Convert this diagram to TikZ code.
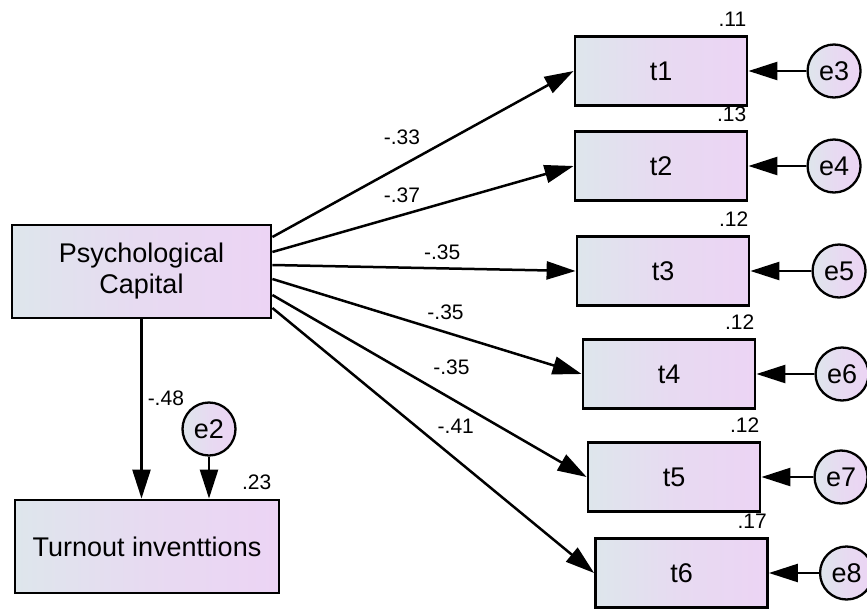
\documentclass[tikz,border=0pt]{standalone}
\usepackage{fontspec}
\setmainfont{Liberation Sans}
\usetikzlibrary{positioning, arrows.meta}
\definecolor{shadeL}{RGB}{222,230,236}
\definecolor{shadeR}{RGB}{236,212,244}
\colorlet{shadeM}{shadeR!65!shadeL}

\begin{document}
\begin{tikzpicture}[x=1pt, y=-1pt,
	obs/.style={draw, line width=2.8pt, left color=shadeL, right color=shadeR, middle color=shadeM, minimum width=172pt, minimum height=69pt, font=\fontsize{27}{31}\selectfont, align=center},
	err/.style={circle, draw, line width=2.3pt, left color=shadeL, right color=shadeR, middle color=shadeM, minimum size=53pt, inner sep=0pt, font=\fontsize{27}{31}\selectfont},
	num/.style={font=\fontsize{21}{24}\selectfont, inner sep=2pt},
	rsq/.style={label={[num, anchor=south east, yshift=6pt]north east:#1}},
	reg/.style={line width=2.5pt, -{Triangle[length=29pt, width=18pt]}}]
		\useasboundingbox (0,0) rectangle (867,608);
		\node[obs, minimum width=259pt, minimum height=93pt] (pc) at (141.5,271.5) {Psychological\\Capital};
		\node[obs, minimum width=264pt, minimum height=93pt] (ti) at (147,546.5) {Turnout inventtions};
		\node[num, anchor=south east] at ([xshift=-7pt, yshift=7pt]ti.north east) {.23};
		\node[err] (e2) at (209,429) {e2};
		
		\node[obs, rsq=.11] (t1) at (661,71) {t1};
		\node[obs, rsq=.13] (t2) at (661,166) {t2};
		\node[obs, rsq=.12] (t3) at (663,271) {t3};
		\node[obs, rsq=.12] (t4) at (669,374) {t4};
		\node[obs, rsq=.12] (t5) at (674,477) {t5};
		\node[obs, rsq=.17] (t6) at (681.5,573) {t6};
		
		\node[err] (e3) [right=58pt of t1] {e3};
		\node[err] (e4) [right=58pt of t2] {e4};
		\node[err] (e5) [right=61pt of t3] {e5};
		\node[err] (e6) [right=58pt of t4] {e6};
		\node[err] (e7) [right=52pt of t5] {e7};
		\node[err] (e8) [right=50pt of t6] {e8};
		
		% paths from psychological capital
		\draw[reg] ([yshift=34.5pt]pc.east) -- node[num, pos=.43, yshift=28pt] {-.33} (t1.west);
		\draw[reg] ([yshift=19.5pt]pc.east) -- node[num, pos=.43, yshift=20pt] {-.37} (t2.west);
		\draw[reg] ([yshift=6.5pt]pc.east) -- node[num, pos=.56, yshift=16pt] {-.35} (t3.west);
		\draw[reg] ([yshift=-7.5pt]pc.east) -- node[num, pos=.56, yshift=20pt] {-.35} (t4.west);
		\draw[reg] ([yshift=-23.5pt]pc.east) -- node[num, pos=.57, yshift=31pt] {-.35} (t5.west);
		\draw[reg] ([yshift=-36.5pt]pc.east) -- node[num, pos=.57, yshift=33pt] {-.41} (t6.west);
		\draw[reg] (pc.south) -- node[num, pos=.44, right=3pt] {-.48} (pc.south |- ti.north);
		
		% error terms
		\draw[reg] (e2) -- (e2 |- ti.north);
		\draw[reg] (e3) -- (t1);
		\draw[reg] (e4) -- (t2);
		\draw[reg] (e5) -- (t3);
		\draw[reg] (e6) -- (t4);
		\draw[reg] (e7) -- (t5);
		\draw[reg] (e8) -- (t6);
	\end{tikzpicture}
\end{document}
